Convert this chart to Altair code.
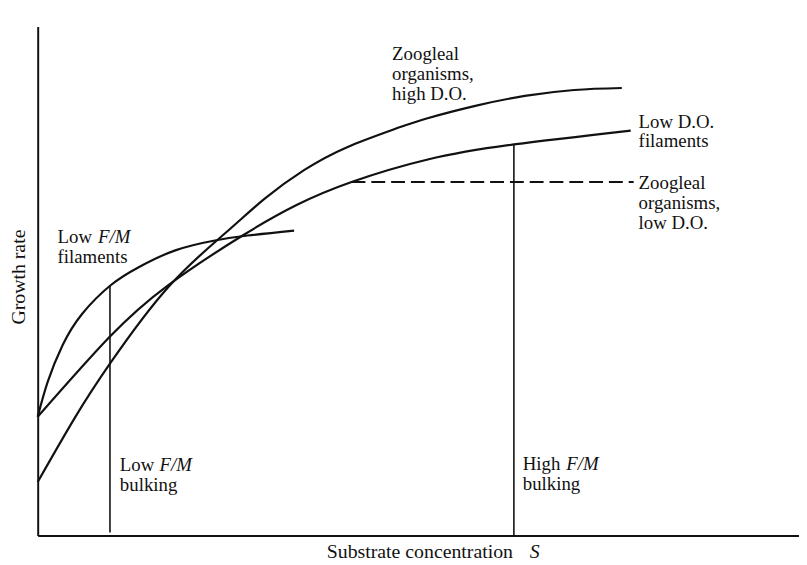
import altair as alt
import pandas as pd

# ---- data (arbitrary units) ----
# Low F/M filaments
lowfm_x = [0, 10, 25, 45, 74, 102, 139, 179, 212, 259]
lowfm_y = [120, 155, 192, 224, 253, 271, 288, 298, 303, 308]
# Low D.O. filaments
lowdo_x = [0, 72, 132, 207, 262, 317, 395, 481, 599]
lowdo_y = [120, 200, 253, 303, 334, 357, 380, 395, 409]
# Zoogleal organisms, high D.O.
zoog_x = [0, 37, 74, 132, 189, 229, 269, 312, 362, 392, 442, 492, 542, 590]
zoog_y = [54, 118, 175, 251, 305, 340, 369, 392, 411, 421, 434, 444, 450, 452]

# Zoogleal organisms, low D.O. (dashed plateau)
dash_x0 = [317]
dash_x1 = [602]
dash_y = [357]

# bulking markers (vertical lines)
bulk_x = [73, 481]
bulk_bottom = [3, 0]
bulk_top = [252, 395]

# annotation texts
label_text = ["Zoogleal", "organisms,", "high D.O.",
              "Low D.O.", "filaments",
              "Zoogleal", "organisms,", "low D.O.",
              "Low", "F/M", "filaments",
              "Low", "F/M", "bulking",
              "High", "F/M", "bulking"]
label_x = [358, 358, 358,
           607, 607,
           607, 607, 607,
           20, 61, 20,
           83, 123, 83,
           490, 534, 490]
label_y = [480, 460, 440,
           412, 392,
           350, 330, 310,
           295, 295, 275,
           65, 65, 45,
           66, 66, 46]
label_style = ["normal"] * 9 + ["italic"] + ["normal"] * 2 + ["italic"] + ["normal"] * 2 + ["italic"] + ["normal"]

# axis titles
xtitle_text = ["Substrate concentration", "S"]
xtitle_x = [292, 497]
xtitle_y = [-23, -23]
xtitle_style = ["normal", "italic"]

ytitle_text = ["Growth rate"]
ytitle_x = [-13]
ytitle_y = [261]

# ---- tables ----
curves = pd.concat([
    pd.DataFrame({"x": lowfm_x, "y": lowfm_y, "series": "Low F/M filaments"}),
    pd.DataFrame({"x": lowdo_x, "y": lowdo_y, "series": "Low D.O. filaments"}),
    pd.DataFrame({"x": zoog_x, "y": zoog_y, "series": "Zoogleal organisms, high D.O."}),
], ignore_index=True)
dashed = pd.DataFrame({"x": dash_x0, "x2": dash_x1, "y": dash_y})
bulk = pd.DataFrame({"x": bulk_x, "y": bulk_bottom, "y2": bulk_top})
labels = pd.DataFrame({"text": label_text, "x": label_x, "y": label_y, "style": label_style})
xtitle = pd.DataFrame({"text": xtitle_text, "x": xtitle_x, "y": xtitle_y, "style": xtitle_style})
ytitle = pd.DataFrame({"text": ytitle_text, "x": ytitle_x, "y": ytitle_y})

INK = "#111111"
FONT = "Liberation Serif"
FS = 19
FS_TITLE = 20
W, H = 769, 514

xscale = alt.Scale(domain=[0, W], nice=False, zero=False)
yscale = alt.Scale(domain=[0, H], nice=False, zero=False)
xaxis = alt.Axis(domain=True, ticks=False, labels=False, grid=False, title="",
                 domainColor=INK, domainWidth=2)
yaxis = alt.Axis(domain=True, ticks=False, labels=False, grid=False, title="",
                 domainColor=INK, domainWidth=2)
X = alt.X("x:Q", scale=xscale, axis=xaxis)
Y = alt.Y("y:Q", scale=yscale, axis=yaxis)

curve_layer = alt.Chart(curves).mark_line(
    interpolate="natural", color=INK, strokeWidth=2.2
).encode(x=X, y=Y, detail="series:N", order="x:Q")

dash_layer = alt.Chart(dashed).mark_rule(
    color=INK, strokeWidth=2, strokeDash=[14, 6]
).encode(x=X, x2="x2:Q", y=Y)

bulk_layer = alt.Chart(bulk).mark_rule(
    color=INK, strokeWidth=1.6
).encode(x=X, y=Y, y2="y2:Q")

text_normal = alt.Chart(labels).transform_filter(
    alt.datum.style == "normal"
).mark_text(
    font=FONT, fontSize=FS, color=INK, align="left", baseline="alphabetic"
).encode(x=X, y=Y, text="text:N")

text_italic = alt.Chart(labels).transform_filter(
    alt.datum.style == "italic"
).mark_text(
    font=FONT, fontSize=FS, fontStyle="italic", color=INK, align="left", baseline="alphabetic"
).encode(x=X, y=Y, text="text:N")

xtitle_normal = alt.Chart(xtitle).transform_filter(
    alt.datum.style == "normal"
).mark_text(
    font=FONT, fontSize=FS_TITLE, color=INK, align="left", baseline="alphabetic"
).encode(x=X, y=Y, text="text:N")

xtitle_italic = alt.Chart(xtitle).transform_filter(
    alt.datum.style == "italic"
).mark_text(
    font=FONT, fontSize=FS_TITLE, fontStyle="italic", color=INK, align="left", baseline="alphabetic"
).encode(x=X, y=Y, text="text:N")

ytitle_layer = alt.Chart(ytitle).mark_text(
    font=FONT, fontSize=FS_TITLE, color=INK, align="center", baseline="alphabetic", angle=270
).encode(x=X, y=Y, text="text:N")

chart = alt.layer(
    curve_layer, dash_layer, bulk_layer, text_normal, text_italic,
    xtitle_normal, xtitle_italic, ytitle_layer
).properties(
    width=W, height=H,
    padding={"left": 30, "top": 16, "right": 0, "bottom": 27},
    autosize=alt.AutoSizeParams(type="none"),
    background="white",
).configure_view(strokeOpacity=0)

chart.save("out.html", embed_options={"renderer": "svg", "actions": False})
